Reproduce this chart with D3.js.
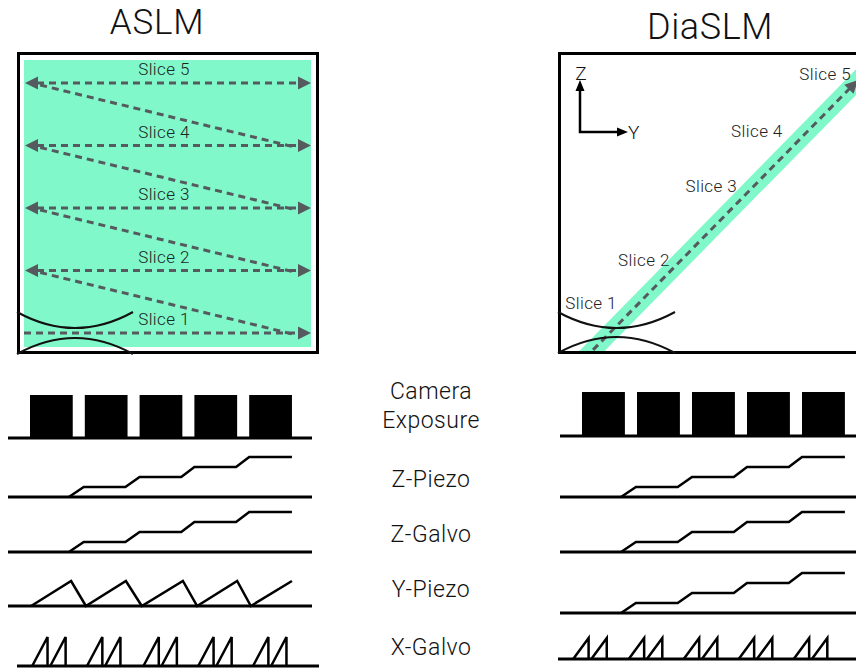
<!DOCTYPE html>
<html>
<head>
<meta charset="utf-8">
<script src="https://cdn.jsdelivr.net/npm/d3@7"></script>
<style>
  body { margin: 0; background: #fff; }
  svg { display: block; font-family: "Roboto", "Liberation Sans", sans-serif; }
</style>
</head>
<body>
<svg id="chart" width="856" height="670"></svg>
<script>
// *******************
// data
// *******************

const sliceNames = ["Slice 1", "Slice 2", "Slice 3", "Slice 4", "Slice 5"];
const sliceIndex = [1, 2, 3, 4, 5];

// DiaSLM: where each slice sits along the diagonal sheet (0 = bottom, 1 = top)
const diaDepth = [0.16, 0.32, 0.59, 0.79, 1.0];
const diaLabelNudge = [-16, -6, -11, -19, -7];

// timing diagrams, time in slice periods
const rowNames = [["Camera", "Exposure"], ["Z-Piezo"], ["Z-Galvo"], ["Y-Piezo"], ["X-Galvo"]];
const exposureStart = [0, 1, 2, 3, 4];
const exposureLength = 0.78;

const stepRampStart = [0.71, 1.74, 2.76, 3.76];
const stepRampEnd = [0.98, 2.0, 3.0, 4.0];
const stepHoldEnd = 4.78;

const yPiezoSawT = [0.02, 0.75, 1.02, 1.75, 2.04, 2.79, 3.05, 3.78, 4.03, 4.78];
const yPiezoSawV = [0, 1, 0, 1, 0, 1, 0, 1, 0, 1];

const xGalvoStartASLM = [0.04, 1.04, 2.07, 3.07, 4.07];
const xGalvoStartDia = [-0.16, 0.85, 1.85, 2.85, 3.85];
const xGalvoRamp = [[0, 0.28], [0.33, 0.61]];

// *******************
// layout
// *******************

const GREEN = "#80f8c9";
const DASH = "#545a5e";

const svg = d3.select("#chart");

// staircase points built from the ramp arrays
const stairs = [[stepRampStart[0], 0]];
stepRampStart.forEach((s, i) => {
  if (i > 0) stairs.push([s, i]);
  stairs.push([stepRampEnd[i], i + 1]);
});
stairs.push([stepHoldEnd, stepRampStart.length]);

const saw = yPiezoSawT.map((t, i) => [t, yPiezoSawV[i]]);

function galvo(starts) {
  const pts = [];
  starts.forEach((s) => {
    xGalvoRamp.forEach(([a, b]) => {
      pts.push([[s + a, 0], [s + b, 1], [s + b, 0]]);
    });
  });
  return pts;
}

function arrowHead(g, tip, angle, len, half, color) {
  const bx = tip[0] - len * Math.cos(angle);
  const by = tip[1] - len * Math.sin(angle);
  const nx = -Math.sin(angle) * half;
  const ny = Math.cos(angle) * half;
  g.append("path")
    .attr("d", `M${tip[0]},${tip[1]}L${bx + nx},${by + ny}L${bx - nx},${by - ny}Z`)
    .attr("fill", color);
}

function dashed(g, x1, y1, x2, y2) {
  g.append("line")
    .attr("x1", x1).attr("y1", y1).attr("x2", x2).attr("y2", y2)
    .attr("stroke", DASH)
    .attr("stroke-width", 3)
    .attr("stroke-dasharray", "7,5");
}

function waist(g, x0, x1, yTop, yBot, depth) {
  const xm = (x0 + x1) / 2;
  g.append("path")
    .attr("d", `M${x0},${yTop}Q${xm},${yTop + 2 * depth} ${x1},${yTop}`)
    .attr("fill", "none").attr("stroke", "#111").attr("stroke-width", 2);
  g.append("path")
    .attr("d", `M${x0},${yBot}Q${xm},${yBot - 2 * depth} ${x1},${yBot}`)
    .attr("fill", "none").attr("stroke", "#111").attr("stroke-width", 2);
}

const label = (sel, size, spacing) => sel
  .attr("font-size", size).attr("font-weight", 300)
  .attr("letter-spacing", spacing).attr("fill", "#111");

// *******************
// titles
// *******************

svg.append("text").attr("x", 157).attr("y", 34)
  .attr("text-anchor", "middle").call(label, 35, 0.8).text("ASLM");
svg.append("text").attr("x", 710).attr("y", 39)
  .attr("text-anchor", "middle").call(label, 36, 0.6).text("DiaSLM");

// *******************
// ASLM panel
// *******************

const aslm = svg.append("g");
const scanX = d3.scaleLinear().domain([0, 1]).range([25, 311]);
const sliceY = d3.scaleLinear().domain([1, 5]).range([333, 83]);

aslm.append("rect")
  .attr("x", 24).attr("y", 60).attr("width", 287).attr("height", 287)
  .attr("fill", GREEN);

sliceIndex.forEach((k, i) => {
  const y = sliceY(k);
  const left = k === 1 ? scanX(0) - 1 : scanX(0) + 12;
  dashed(aslm, left, y, scanX(1) - 12, y);
  arrowHead(aslm, [scanX(1), y], 0, 13, 6.5, DASH);
  if (k > 1) {
    arrowHead(aslm, [scanX(0), y], Math.PI, 13, 6.5, DASH);
    dashed(aslm, scanX(0.053), y + 2, scanX(0.935), sliceY(k - 1) + 1);
  }
  aslm.append("text")
    .attr("x", 164).attr("y", y - 8)
    .attr("text-anchor", "middle").call(label, 17, 0.4)
    .attr("fill", "#1a2722").text(sliceNames[i]);
});

aslm.append("rect")
  .attr("x", 18.5).attr("y", 53.5).attr("width", 299).attr("height", 299)
  .attr("fill", "none").attr("stroke", "#000").attr("stroke-width", 3);

waist(aslm, 17, 133, 312, 354, 16);

// *******************
// DiaSLM panel
// *******************

const dia = svg.append("g");
const diaX = d3.scaleLinear().domain([0, 1]).range([590, 858]);
const diaY = d3.scaleLinear().domain([0, 1]).range([353, 80]);

svg.append("clipPath").attr("id", "dia-clip")
  .append("rect").attr("x", 561).attr("y", 55).attr("width", 320).attr("height", 296);

const sheet = dia.append("g").attr("clip-path", "url(#dia-clip)");
sheet.append("line")
  .attr("x1", diaX(-0.1)).attr("y1", diaY(-0.1))
  .attr("x2", diaX(1.2)).attr("y2", diaY(1.2))
  .attr("stroke", GREEN).attr("stroke-width", 18);

const ang = Math.atan2(diaY(1) - diaY(0), diaX(1) - diaX(0));
const tipX = diaX(1), tipY = diaY(1);
dashed(sheet, diaX(-0.02), diaY(-0.02), tipX - 12 * Math.cos(ang), tipY - 12 * Math.sin(ang));
arrowHead(sheet, [tipX, tipY], ang, 13, 6.5, DASH);

diaDepth.forEach((s, i) => {
  dia.append("text")
    .attr("x", diaX(s) + diaLabelNudge[i])
    .attr("y", diaY(s))
    .attr("text-anchor", "end").call(label, 17, 0.4)
    .attr("fill", "#222").text(sliceNames[i]);
});

// axis glyph
const axG = dia.append("g");
axG.append("path").attr("d", "M580,88V132H621")
  .attr("fill", "none").attr("stroke", "#000").attr("stroke-width", 2.5);
arrowHead(axG, [580, 80], -Math.PI / 2, 11, 4.5, "#000");
arrowHead(axG, [628, 132], 0, 11, 4.5, "#000");
axG.append("text").attr("x", 581).attr("y", 80).attr("text-anchor", "middle")
  .call(label, 19, 0).text("Z");
axG.append("text").attr("x", 628).attr("y", 139)
  .call(label, 19, 0).text("Y");

dia.append("path").attr("d", "M900,53.5H559.5V352.5H900")
  .attr("fill", "none").attr("stroke", "#000").attr("stroke-width", 3);

waist(dia, 558, 675, 312, 353, 16);

// *******************
// timing diagrams
// *******************

const panels = [
  {
    t: d3.scaleLinear().domain([0, 5]).range([30, 304]),
    base: [438, 497, 552, 606, 666],
    camTop: 395,
    line: [8, 312], xgLine: [17, 319],
    yPiezo: "saw", xgAmp: 29, xgStarts: xGalvoStartASLM,
  },
  {
    t: d3.scaleLinear().domain([0, 5]).range([582, 857]),
    base: [436, 497, 552, 613, 659],
    camTop: 392,
    line: [560, 860], xgLine: [558, 860],
    yPiezo: "stairs", xgAmp: 21, xgStarts: xGalvoStartDia,
  },
];

const stepAmp = d3.scaleLinear().domain([0, 4]).range([0, 40]);

panels.forEach((p) => {
  const g = svg.append("g");
  const sig = (base, amp) => d3.line().x((d) => p.t(d[0])).y((d) => base - amp(d[1]));

  // baselines
  p.base.forEach((b, i) => {
    const ext = i === 4 ? p.xgLine : p.line;
    g.append("line")
      .attr("x1", ext[0]).attr("x2", ext[1]).attr("y1", b).attr("y2", b)
      .attr("stroke", "#000").attr("stroke-width", 3);
  });

  // camera exposure
  g.selectAll("rect.exp").data(exposureStart).join("rect")
    .attr("class", "exp")
    .attr("x", (d) => p.t(d))
    .attr("width", (d) => p.t(d + exposureLength) - p.t(d))
    .attr("y", p.camTop)
    .attr("height", p.base[0] - p.camTop)
    .attr("fill", "#000");

  const stroke = (sel) => sel.attr("fill", "none").attr("stroke", "#000")
    .attr("stroke-width", 2.5).attr("stroke-linejoin", "miter");

  g.append("path").attr("d", sig(p.base[1], stepAmp)(stairs)).call(stroke);
  g.append("path").attr("d", sig(p.base[2], stepAmp)(stairs)).call(stroke);

  if (p.yPiezo === "saw") {
    const sawAmp = d3.scaleLinear().domain([0, 1]).range([0, 25]);
    g.append("path").attr("d", sig(p.base[3], sawAmp)(saw)).call(stroke);
  } else {
    g.append("path").attr("d", sig(p.base[3], stepAmp)(stairs)).call(stroke);
  }

  const xgAmp = d3.scaleLinear().domain([0, 1]).range([0, p.xgAmp]);
  galvo(p.xgStarts).forEach((tooth) => {
    g.append("path").attr("d", sig(p.base[4], xgAmp)(tooth)).call(stroke);
  });
});

// row labels in the middle
const labelBase = [[399, 428], [487], [542], [597], [655]];
rowNames.forEach((lines, i) => {
  lines.forEach((txt, j) => {
    svg.append("text")
      .attr("x", 431).attr("y", labelBase[i][j])
      .attr("text-anchor", "middle").call(label, 23, 0.5)
      .text(txt);
  });
});
</script>
</body>
</html>
